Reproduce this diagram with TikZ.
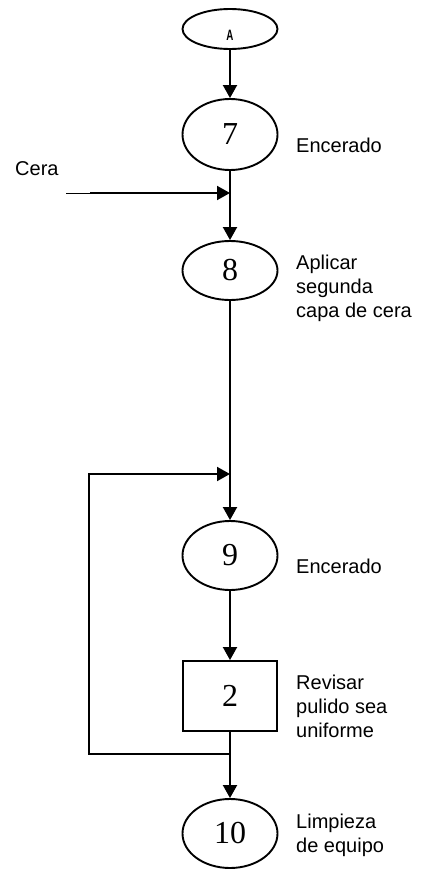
\documentclass[tikz,border=0pt]{standalone}
\usepackage{fontspec}
\setmainfont{Liberation Serif}
\setsansfont{Liberation Sans}
\usetikzlibrary{shapes.geometric,arrows.meta}
\tikzset{
  ln/.style={line width=1.9pt},
  arr/.style={ln,-{Triangle[length=13pt,width=14pt]}},
  opnode/.style={ellipse,draw,line width=1.9pt,minimum width=95pt,inner sep=0pt,font=\fontsize{32}{36}\selectfont},
  insp/.style={rectangle,draw,line width=1.9pt,minimum width=94pt,minimum height=70pt,inner sep=0pt,font=\fontsize{32}{36}\selectfont},
  lbl/.style={anchor=west,align=left,inner sep=0pt,font=\sffamily\fontsize{20}{24}\selectfont}
}
\begin{document}
\begin{tikzpicture}[x=1pt,y=-1pt]
\useasboundingbox (0,0) rectangle (423,870);
% nodes
\node[opnode,minimum height=40pt] (top) at (230,29) {};
\node[font=\sffamily\bfseries\fontsize{15}{15}\selectfont,inner sep=0pt] (topA) at (230,35) {\scalebox{0.65}[1]{A}};
\node[opnode,minimum height=71pt] (n7) at (230,134.5) {7};
\node[opnode,minimum height=59pt] (n8) at (230,270.5) {8};
\node[opnode,minimum height=69pt] (n9) at (230,555.5) {9};
\node[insp] (b2) at (230,696) {2};
\node[opnode,minimum height=69pt] (n10) at (230,833.5) {10};
% labels
\node[lbl] (l7) at (296,145) {Encerado};
\node[lbl] (l8) at (296,288) {Aplicar\\segunda\\capa de cera};
\node[lbl] (l9) at (296,566) {Encerado};
\node[lbl] (l2) at (296,706) {Revisar\\pulido sea\\uniforme};
\node[lbl] (l10) at (296,835) {Limpieza\\de equipo};
\node[lbl] (lc) at (15,169) {Cera};
% coordinates
\coordinate (c0) at (66,193);
\coordinate (c1) at (90,193);
\coordinate (j1) at (230,193);
\coordinate (j2) at (230,474);
\coordinate (j3) at (230,754);
\coordinate (k1) at (89,754);
\coordinate (k2) at (89,474);
% connectors
\draw[arr] (top) -- (n7);
\draw[line width=0.7pt] (c0) -- (c1);
\draw[arr] (c1) -- (j1);
\draw[arr] (n7) -- (n8);
\draw[arr] (n8) -- (n9);
\draw[arr] (n9) -- (b2);
\draw[arr] (b2) -- (n10);
\draw[arr] (j3) -- (k1) -- (k2) -- (j2);
\end{tikzpicture}
\end{document}
